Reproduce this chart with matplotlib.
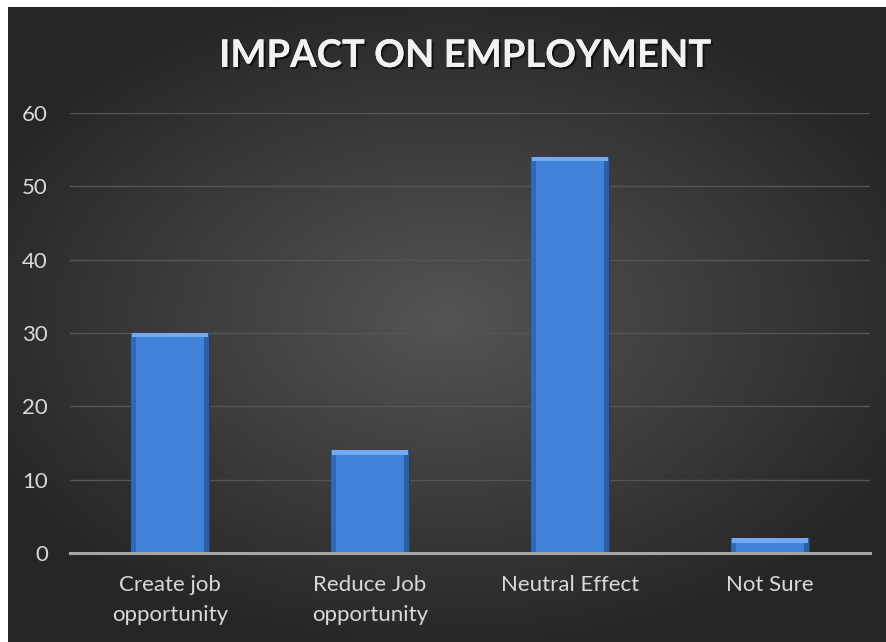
import numpy as np
import matplotlib.pyplot as plt
import matplotlib.patheffects as pe

# data
categories = ['Create job\nopportunity', 'Reduce Job\nopportunity', 'Neutral Effect', 'Not Sure']
values = [30, 14, 54, 2]
yticks = [0, 10, 20, 30, 40, 50, 60]
title = 'IMPACT ON EMPLOYMENT'

plt.rcParams['font.family'] = ['Lato', 'DejaVu Sans']

fig = plt.figure(figsize=(8.86, 6.42), dpi=100, facecolor='white')

# background with radial gradient
bg = fig.add_axes([8/886, 0, 878/886, 635/642])
bg.set_axis_off()
yy, xx = np.mgrid[-1:1:300j, -1:1:400j]
r = np.sqrt((xx / 1.1) ** 2 + ((yy + 0.02) / 1.0) ** 2)
shade = np.clip(0.33 - 0.17 * r, 0.15, 0.34)
img = np.dstack([shade, shade, shade])
bg.imshow(img, aspect='auto', extent=[0, 1, 0, 1], interpolation='bilinear')
bg.set_xlim(0, 1)
bg.set_ylim(0, 1)

ax = fig.add_axes([70/886, 1 - 553/642, 800/886, 440/642])
ax.patch.set_alpha(0)
x = np.arange(len(categories))
w = 0.39

# main bars
ax.bar(x, values, width=w, color='#4083d8', edgecolor='#1f3f6e', linewidth=0.8, zorder=3)
# side shading for bevel look
ax.bar(x - w/2 + 0.012, values, width=0.024, color='#3068b3', linewidth=0, zorder=4)
ax.bar(x + w/2 - 0.012, values, width=0.024, color='#2c5ea5', linewidth=0, zorder=4)
# lighter top bevel
top_h = 0.6
ax.bar(x, [top_h] * len(values), bottom=[v - top_h for v in values], width=w - 0.01,
       color='#74abf0', linewidth=0, zorder=5)

ax.set_xlim(-0.5, len(categories) - 0.5)
ax.set_ylim(0, 60)
ax.set_yticks(yticks)
ax.yaxis.grid(True, color='#555555', linewidth=1, zorder=0)
ax.set_axisbelow(True)
for s in ['top', 'right', 'left']:
    ax.spines[s].set_visible(False)
ax.spines['bottom'].set_color('#a6a6a6')
ax.spines['bottom'].set_linewidth(2.2)
ax.spines['bottom'].set_zorder(6)
ax.tick_params(axis='both', length=0, colors='#d9d9d9', labelsize=16)
ax.tick_params(axis='y', pad=16)
ax.tick_params(axis='x', pad=16)
ax.set_xticks(x)
ax.set_xticklabels(categories, linespacing=1.6)
for lab in ax.get_yticklabels():
    lab.set_horizontalalignment('right')

fig.text(466/886, 1 - 56/642, title, ha='center', va='center', fontsize=27.5,
         fontweight='bold', color='#f2f2f2',
         path_effects=[pe.withSimplePatchShadow(offset=(1.5, -1.5), shadow_rgbFace='black', alpha=0.6),
                       pe.Normal()])

fig.savefig('out.png', dpi=100, facecolor=fig.get_facecolor())
